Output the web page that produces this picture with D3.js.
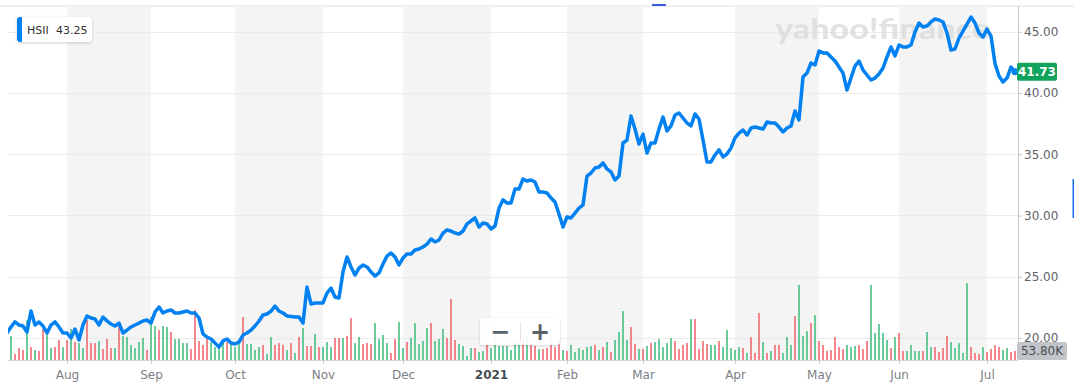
<!DOCTYPE html>
<html><head><meta charset="utf-8">
<script src="https://cdn.jsdelivr.net/npm/d3@7"></script>
<style>
html,body{margin:0;padding:0;background:#fff;overflow:hidden;}
svg{display:block;font-family:"DejaVu Sans",Arial,sans-serif;}
</style></head>
<body>
<svg id="chart" width="1074" height="391"></svg>
<script>
// ---------- data ----------
const symbol = "HSII";
const legendValue = "43.25";
const startDate = "2020-07-13";
const endDate = "2021-07-13";
const holidays = ["2020-09-07","2020-11-26","2020-12-25","2021-01-01","2021-01-18","2021-02-15","2021-04-02","2021-05-31","2021-07-05"];
const monthLabels = ["Aug","Sep","Oct","Nov","Dec","2021","Feb","Mar","Apr","May","Jun","Jul"];
const priceTicks = [20,25,30,35,40,45];
const lastVolumeLabel = "53.80K";

const prices = [
20.41,20.90,21.31,21.06,20.98,20.49,22.20,21.06,21.31,20.98,
20.41,21.06,21.31,20.90,20.41,20.41,20.00,20.73,19.84,21.06,
21.80,21.63,21.55,21.06,21.71,21.39,21.14,20.98,21.22,20.41,
20.65,20.90,21.06,21.22,21.39,21.47,21.22,22.12,22.53,22.04,
22.20,22.29,22.04,22.04,22.12,22.20,22.04,22.04,21.63,20.33,
20.08,19.92,19.59,19.27,19.76,19.92,19.59,19.51,19.67,20.24,
20.41,20.65,20.98,21.39,21.88,21.96,22.20,22.61,22.20,22.04,
21.80,21.76,21.71,21.71,21.22,24.16,22.78,22.86,22.86,22.86,
23.67,24.08,23.35,23.27,25.39,26.61,25.80,25.14,25.71,25.96,
25.80,25.39,25.06,25.31,26.04,26.69,26.94,26.61,25.96,26.53,
26.86,26.86,27.18,27.27,27.43,27.67,28.08,27.84,28.00,28.57,
28.82,28.73,28.57,28.49,28.73,29.31,29.55,29.80,29.06,29.39,
29.31,28.90,29.14,30.61,31.27,31.02,31.02,32.16,32.16,32.98,
32.82,32.90,32.73,31.92,31.92,31.84,31.43,31.10,30.12,29.06,
29.88,29.80,30.20,30.61,30.86,33.22,33.47,33.88,33.96,34.29,
33.80,33.55,32.90,33.22,35.92,36.16,38.12,37.06,35.84,36.65,
35.10,35.92,35.92,37.06,38.04,36.90,37.31,38.20,38.37,37.96,
37.55,37.31,38.29,37.88,36.16,34.37,34.37,34.94,35.35,34.78,
35.02,35.51,36.33,36.73,36.98,36.57,37.14,37.22,37.14,37.06,
37.63,37.55,37.55,37.22,36.82,37.14,37.31,38.53,37.80,41.31,
41.63,42.45,42.29,43.43,43.27,43.27,42.94,42.61,42.12,41.63,
40.24,41.22,42.20,42.61,41.88,41.47,41.06,41.22,41.55,42.04,
42.94,43.76,43.02,43.92,43.76,43.76,43.92,44.98,45.71,45.39,
45.47,45.80,46.04,45.96,45.80,44.90,43.51,43.59,44.49,45.06,
45.63,46.20,45.71,44.90,44.57,45.22,44.65,42.40,41.39,40.90,
41.22,42.12,41.73];

// volume in thousands of shares
const volumes = [
66,144,36,72,60,240,78,60,54,186,
162,72,78,120,78,120,186,108,102,72,
240,102,102,114,66,126,72,72,204,144,
138,90,72,108,132,60,258,204,180,204,
198,168,126,126,102,102,66,300,114,90,
126,108,78,96,120,108,108,78,120,258,
96,96,60,78,90,36,138,90,102,90,
60,102,42,138,192,84,84,156,78,78,
108,78,132,132,132,144,252,102,
138,96,102,96,222,126,150,102,42,126,
228,72,108,132,222,96,114,192,222,114,
126,186,132,366,120,96,84,24,72,72,
48,54,102,72,162,84,84,84,60,108,
114,138,144,96,84,66,66,72,132,78,
126,60,54,90,48,72,60,78,84,90,
60,78,108,48,120,168,294,120,198,96,
66,66,84,102,108,126,78,102,132,114,
66,90,102,246,246,
66,114,96,90,90,114,78,180,72,60,
78,72,42,138,42,282,108,42,54,90,
90,42,138,90,264,450,144,174,222,270,
114,90,54,60,138,78,66,90,78,84,
90,66,114,450,162,216,162,120,72,138,
162,54,54,90,54,54,54,168,78,78,
48,72,144,108,72,102,42,462,78,42,
36,78,48,66,90,78,60,72,48,
53.8];

// g = up day (green), r = down day (red)
const volumeDir =
"ggrrrgrgrr"+"ggrrgrgrgg"+"rrrgrrrgrg"+"gggggrggrg"+"grggggrrrr"+"rggggrgggr"+"ggggrggrrr"+"grgrgrrgrg"+"ggrrgrrg"+
"grrrggggrr"+"ggrgggggrg"+"ggrrrggggr"+"ggrggggggg"+"grgrrgrrrr"+"rgrggggggr"+"grgrggggrr"+"grgrgggggr"+"rrrgr"+
"rrrggrgggg"+"grgrrrgrgr"+"rgggrgggrg"+"rrrrrrrggg"+"rrrgggggrg"+"rrggggrggr"+"rrrgggggrr"+"rgrrrrggr"+"r";

// ---------- layout ----------
const W = 1074, H = 391;
const plotLeft = 8, plotRight = 1018, plotTop = 6, volBase = 360;
const svg = d3.select("#chart");

const parse = d3.utcParse("%Y-%m-%d"), fmt = d3.utcFormat("%Y-%m-%d");
const days = d3.utcDay.range(parse(startDate), d3.utcDay.offset(parse(endDate), 1))
  .filter(d => d.getUTCDay() !== 0 && d.getUTCDay() !== 6 && !holidays.includes(fmt(d)));
const N = prices.length;

const x = d3.scaleLinear().domain([0, N - 1]).range([7, 1015]);
const y = d3.scaleLinear().domain([20, 45]).range([338, 31.75]);
const yVol = d3.scaleLinear().domain([0, 480]).range([volBase, 280]);

// month start indices
const monthIdx = [];
for (let i = 1; i < days.length; i++) {
  if (days[i].getUTCMonth() !== days[i - 1].getUTCMonth()) monthIdx.push(i);
}

const defs = svg.append("defs");
defs.append("clipPath").attr("id", "plotClip").append("rect")
  .attr("x", plotLeft).attr("y", plotTop).attr("width", plotRight - plotLeft).attr("height", volBase - plotTop);
const sh = defs.append("filter").attr("id", "shadow").attr("x", "-20%").attr("y", "-40%").attr("width", "140%").attr("height", "180%");
sh.append("feDropShadow").attr("dx", 0).attr("dy", 1).attr("stdDeviation", 1.5).attr("flood-color", "#000").attr("flood-opacity", 0.18);

// top border
svg.append("line").attr("x1", 0).attr("x2", W).attr("y1", plotTop).attr("y2", plotTop)
  .attr("stroke", "#e0e0e6").attr("stroke-width", 1.2);

// alternating month bands
const bands = svg.append("g");
for (let k = 0; k + 1 < monthIdx.length; k += 2) {
  bands.append("rect")
    .attr("x", x(monthIdx[k])).attr("y", plotTop + 0.6)
    .attr("width", x(monthIdx[k + 1]) - x(monthIdx[k]))
    .attr("height", volBase - plotTop - 0.6)
    .attr("fill", "#f4f4f4");
}

// horizontal grid
svg.append("g").selectAll("line").data(priceTicks).join("line")
  .attr("x1", plotLeft).attr("x2", plotRight)
  .attr("y1", d => Math.round(y(d)) + 0.5).attr("y2", d => Math.round(y(d)) + 0.5)
  .attr("stroke", "#ebebeb").attr("stroke-width", 1);

// watermark
svg.append("text").attr("x", 775).attr("y", 39)
  .attr("textLength", 215).attr("lengthAdjust", "spacingAndGlyphs")
  .style("font-family", "Lato, 'DejaVu Sans', sans-serif").style("font-weight", 900)
  .style("font-size", "29px").attr("fill", "#dcdde0").attr("opacity", 0.85)
  .text("yahoo!finance");

// volume bars
const plot = svg.append("g").attr("clip-path", "url(#plotClip)");
plot.append("g").selectAll("rect").data(volumes).join("rect")
  .attr("x", (d, i) => x(i) - 0.75).attr("width", 1.5)
  .attr("y", d => yVol(d)).attr("height", d => volBase - yVol(d))
  .attr("fill", (d, i) => volumeDir[i] === "g" ? "#3dbb7b" : "#f0606a");

// price line
const line = d3.line().x((d, i) => x(i)).y(d => y(d));
plot.append("path").datum(prices).attr("d", line)
  .attr("fill", "none").attr("stroke", "#0081f2").attr("stroke-width", 3.5)
  .attr("stroke-linejoin", "round").attr("stroke-linecap", "round");

svg.append("circle").attr("cx", x(N - 1)).attr("cy", y(prices[N - 1])).attr("r", 3.5).attr("fill", "#0081f2");

// baseline of volume area
svg.append("line").attr("x1", plotLeft).attr("x2", plotRight).attr("y1", volBase + 0.5).attr("y2", volBase + 0.5)
  .attr("stroke", "#d6d6d6");

// right axis
svg.append("line").attr("x1", plotRight + 0.5).attr("x2", plotRight + 0.5).attr("y1", plotTop).attr("y2", volBase)
  .attr("stroke", "#c8c8c8");
const yAxis = svg.append("g").attr("transform", `translate(${plotRight},0)`)
  .call(d3.axisRight(y).tickValues(priceTicks).tickFormat(d3.format(".2f")).tickSize(4).tickPadding(2));
yAxis.select(".domain").remove();
yAxis.selectAll(".tick line").attr("stroke", "#c8c8c8");
yAxis.selectAll("text").attr("fill", "#5b636a").style("font-size", "12px").style("font-family", "'DejaVu Sans',sans-serif");

// bottom axis
const xAxis = svg.append("g").attr("transform", `translate(0,${volBase})`)
  .call(d3.axisBottom(x).tickValues(monthIdx).tickFormat((d, i) => monthLabels[i]).tickSize(4).tickPadding(6));
xAxis.select(".domain").remove();
xAxis.selectAll(".tick line").attr("stroke", "#c8c8c8");
xAxis.selectAll("text").attr("fill", "#7b8187").style("font-size", "12px").style("font-family", "'DejaVu Sans',sans-serif")
  .filter(d => days[d].getUTCMonth() === 0).attr("fill", "#464e56").style("font-weight", "bold");

// current price label
const lastP = prices[N - 1];
const pl = svg.append("g").attr("transform", `translate(${plotRight - 1},${y(lastP)})`);
pl.append("rect").attr("x", 0).attr("y", -9).attr("width", 40).attr("height", 18).attr("rx", 2).attr("fill", "#10a35b");
pl.append("text").attr("x", 20).attr("y", 0).attr("dy", "0.35em").attr("text-anchor", "middle")
  .attr("fill", "#fff").style("font-size", "12px").style("font-weight", 600).text(lastP.toFixed(2));

// current volume label
const lastV = volumes[N - 1];
const vl = svg.append("g").attr("transform", `translate(${plotRight - 1},${yVol(lastV)})`);
vl.append("rect").attr("x", 0).attr("y", -9).attr("width", 50).attr("height", 18).attr("rx", 2).attr("fill", "#c1c4c8");
vl.append("text").attr("x", 25).attr("y", 0).attr("dy", "0.35em").attr("text-anchor", "middle")
  .attr("fill", "#464e56").style("font-size", "12px").text(lastVolumeLabel);

// legend
const lg = svg.append("g").attr("transform", "translate(17,17)");
lg.append("rect").attr("width", 75).attr("height", 25).attr("rx", 3).attr("fill", "#fff").attr("filter", "url(#shadow)");
lg.append("path").attr("d", "M3,0 H5 V25 H3 A3,3 0 0 1 0,22 V3 A3,3 0 0 1 3,0 Z").attr("fill", "#0081f2");
lg.append("text").attr("x", 10).attr("y", 17).attr("fill", "#333").style("font-size", "11px").text(symbol);
lg.append("text").attr("x", 39).attr("y", 17).attr("fill", "#333").style("font-size", "11px").text(legendValue);

// zoom buttons
const zb = svg.append("g").attr("transform", "translate(480,318)");
zb.append("rect").attr("width", 80).attr("height", 27).attr("rx", 3).attr("fill", "#fff").attr("opacity", 0.92).attr("filter", "url(#shadow)");
zb.append("line").attr("x1", 40.5).attr("x2", 40.5).attr("y1", 4).attr("y2", 23).attr("stroke", "#e6e6e6");
zb.append("text").attr("x", 20).attr("y", 13.5).attr("dy", "0.35em").attr("text-anchor", "middle")
  .attr("fill", "#5b636a").style("font-size", "24px").style("font-weight", "bold").text("−");
zb.append("text").attr("x", 60).attr("y", 13.5).attr("dy", "0.35em").attr("text-anchor", "middle")
  .attr("fill", "#5b636a").style("font-size", "24px").style("font-weight", "bold").text("+");

// small UI marks
svg.append("rect").attr("x", 652).attr("y", 4).attr("width", 14).attr("height", 2).attr("fill", "#3b5bdb");
svg.append("rect").attr("x", 1072.5).attr("y", 179).attr("width", 1.5).attr("height", 39).attr("fill", "#1a73e8");
</script>
</body></html>
